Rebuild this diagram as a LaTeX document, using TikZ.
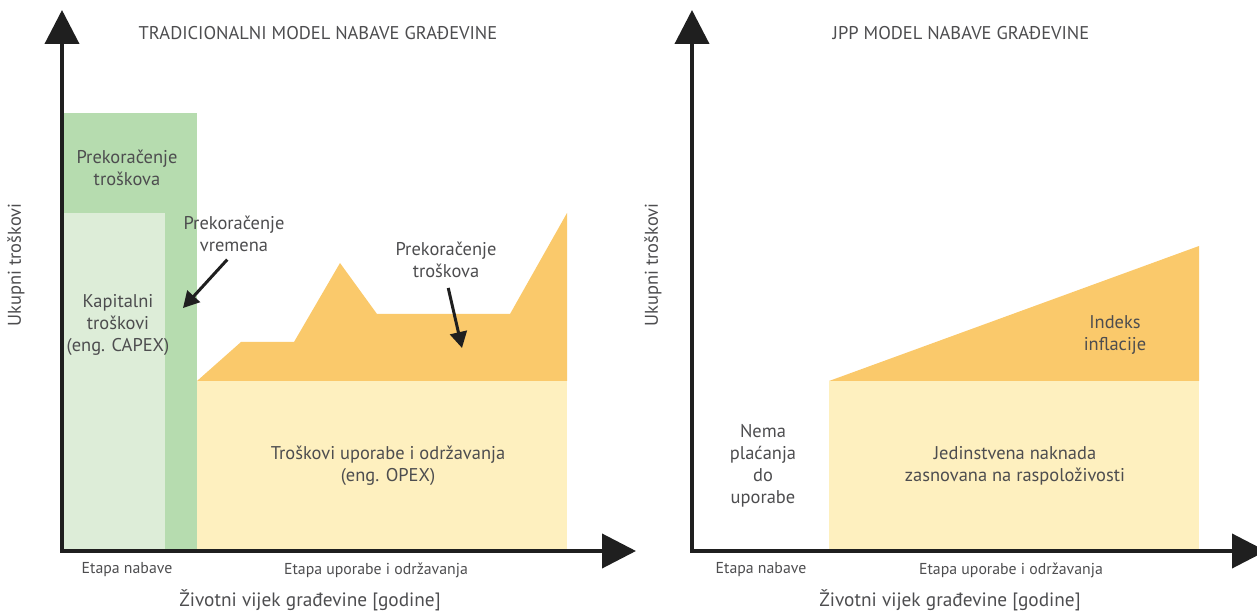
\documentclass[tikz,border=0pt]{standalone}
\usepackage{fontspec}
\setmainfont{PT Sans}
\usepackage{tikz}
\usetikzlibrary{arrows.meta, positioning}
\usepackage{xcolor}
\definecolor{zelenaT}{HTML}{B6DCAF}
\definecolor{zelenaS}{HTML}{DDEDD8}
\definecolor{zutaS}{HTML}{FEF0BF}
\definecolor{narancasta}{HTML}{FAC96B}
\definecolor{sivaT}{HTML}{4D4D4F}

\begin{document}
\begin{tikzpicture}[x = 0.02cm, y = 0.02cm,
    os/.style = {line width = 0.08cm, draw = black!88, -{Triangle[length = 0.68cm, width = 0.68cm]}},
    strelica/.style = {line width = 0.06cm, draw = black!88, -{Triangle[length = 0.32cm, width = 0.34cm]}},
    oznaka/.style = {text = sivaT, font = \fontsize{10.5}{12.5}\selectfont, align = center, inner sep = 0pt},
    sitno/.style = {text = sivaT, font = \fontsize{9}{11}\selectfont, inner sep = 0pt},
    naslov/.style = {text = sivaT, font = \fontsize{10.5}{12.5}\selectfont, inner sep = 0pt},
    vijek/.style = {text = sivaT, font = \fontsize{11}{13}\selectfont, inner sep = 0pt}]
    \useasboundingbox (0,0) rectangle (1257,615);
    % Parametri
    \pgfmathsetmacro{\yos}{64}
    \pgfmathsetmacro{\yvrh}{605}
    \pgfmathsetmacro{\yopex}{234}

    % ---- Tradicionalni model ----
    % povrsine
    \fill[zelenaT] (64,\yos) rectangle (197,502);
    \fill[zelenaS] (64,\yos) rectangle (165,402);
    \fill[zutaS] (197,\yos) rectangle (567,\yopex);
    \fill[narancasta] (197,\yopex) -- (241,273) -- (294,273) -- (340,352) -- (377,301)
        -- (510,301) -- (567,402) -- (567,\yopex) -- cycle;
    % osi
    \coordinate (O1) at (62,\yos);
    \coordinate (Y1) at (62,\yvrh);
    \coordinate (X1) at (636,\yos);
    \draw[os] (O1) -- (Y1);
    \draw[os] ([xshift = -0.04cm]O1) -- (X1);
    % tekst
    \node[naslov] (naslov1) at (318,582) {TRADICIONALNI MODEL NABAVE GRAĐEVINE};
    \node[oznaka, rotate = 90] (ukupni1) at (16,350) {Ukupni troškovi};
    \node[oznaka] (prekT1) at (127,447) {Prekoračenje\\troškova};
    \node[oznaka] (capex) at (118,290) {Kapitalni\\troškovi\\(eng. CAPEX)};
    \node[oznaka] (vrem) at (234,381) {Prekoračenje\\vremena};
    \node[oznaka] (prekT2) at (446,355) {Prekoračenje\\troškova};
    \node[oznaka] (opex) at (388,149) {Troškovi uporabe i održavanja\\(eng. OPEX)};
    \node[sitno] (etapa1) at (127,45) {Etapa nabave};
    \node[sitno] (etapa2) at (376,45) {Etapa uporabe i održavanja};
    \node[vijek] (vijek1) at (310,15) {Životni vijek građevine [godine]};
    % strelice
    \coordinate (vremVrh) at (183,307);
    \coordinate (troskVrh) at (462,267);
    \draw[strelica, shorten <= 0.2cm] (vrem.south) -- (vremVrh);
    \draw[strelica, shorten <= 0.2cm] (prekT2.south) -- (troskVrh);

    % ---- JPP model ----
    % povrsine
    \fill[zutaS] (829,\yos) rectangle (1199,\yopex);
    \fill[narancasta] (829,\yopex) -- (1199,369) -- (1199,\yopex) -- cycle;
    % osi
    \coordinate (O2) at (692,\yos);
    \coordinate (Y2) at (692,\yvrh);
    \coordinate (X2) at (1266,\yos);
    \draw[os] (O2) -- (Y2);
    \draw[os] ([xshift = -0.04cm]O2) -- (X2);
    % tekst
    \node[naslov] (naslov2) at (961,582) {JPP MODEL NABAVE GRAĐEVINE};
    \node[oznaka, rotate = 90] (ukupni2) at (653,350) {Ukupni troškovi};
    \node[oznaka] (indeks) at (1115,280) {Indeks\\inflacije};
    \node[oznaka] (nema) at (763,149) {Nema\\plaćanja\\do\\uporabe};
    \node[oznaka] (jed) at (1015,149) {Jedinstvena naknada\\zasnovana na raspoloživosti};
    \node[sitno] (etapa3) at (761,45) {Etapa nabave};
    \node[sitno] (etapa4) at (1011,45) {Etapa uporabe i održavanja};
    \node[vijek] (vijek2) at (950,15) {Životni vijek građevine [godine]};
\end{tikzpicture}
\end{document}
